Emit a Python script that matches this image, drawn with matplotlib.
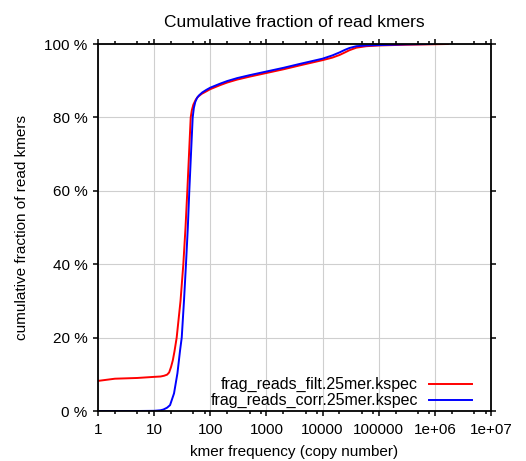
import numpy as np
import matplotlib.pyplot as plt
from matplotlib.ticker import LogLocator, FixedLocator, NullFormatter

plt.rcParams['font.family'] = ['Liberation Sans', 'DejaVu Sans']

# kmer frequency vs cumulative fraction (%)
filt_x = [1, 2, 5, 10, 13, 15, 17, 18.5, 20, 21.5, 23, 25.2, 29.5, 33.1, 36.2,
          39.0, 41.8, 44.8, 47, 50, 55, 60, 70, 85, 100, 150, 200, 300, 500,
          1000, 2000, 4000, 10000, 15000, 20000, 25000, 30000, 40000, 60000,
          1e5, 3e5, 1.7e6]
filt_y = [8.2, 8.8, 9.0, 9.3, 9.4, 9.6, 9.9, 10.5, 12, 13.8, 16.2, 20, 30, 40,
          50, 60, 70, 80, 82, 83.5, 84.8, 85.6, 86.4, 87.1, 87.7, 88.8, 89.5,
          90.3, 91.1, 92.1, 93.1, 94.2, 95.6, 96.3, 97.0, 97.7, 98.3, 99.0,
          99.4, 99.6, 99.8, 100]

corr_x = [1, 5, 10, 13, 14.6, 17, 19.2, 22.6, 26, 29, 31, 34.0, 36.9, 39.8, 42.3,
          45.3, 48.6, 51, 54, 58, 63, 72, 85, 100, 150, 200, 300, 500, 1000,
          2000, 4000, 10000, 15000, 20000, 25000, 30000, 40000, 60000, 1e5,
          3e5, 9e5]
corr_y = [0, 0, 0.05, 0.2, 0.4, 0.9, 1.6, 4.8, 10.3, 16.6, 20, 30, 40, 50, 60,
          70, 80, 82.6, 84.2, 85.3, 86.0, 86.8, 87.5, 88.1, 89.2, 89.9,
          90.7, 91.5, 92.5, 93.5, 94.6, 96.0, 96.9, 97.7, 98.4, 98.9, 99.4,
          99.6, 99.7, 99.9, 100]

labels = ['frag_reads_filt.25mer.kspec', 'frag_reads_corr.25mer.kspec']
colors = ['#ff0000', '#0000ff']
x_ticks = [1, 10, 100, 1000, 10000, 100000, 1e6, 1e7]
x_ticklabels = ['1', '10', '100', '1000', '10000', '100000', '1e+06', '1e+07']
y_ticks = [0, 20, 40, 60, 80, 100]

fig = plt.figure(figsize=(5.26, 4.61), dpi=100)
ax = fig.add_axes([98 / 526, 50 / 461, 393 / 526, 367 / 461])

ax.plot(filt_x, filt_y, color=colors[0], lw=1.4)
ax.plot(corr_x, corr_y, color=colors[1], lw=1.4)

ax.set_xscale('log')
ax.set_xlim(1, 1e7)
ax.set_ylim(0, 100)
ax.xaxis.set_major_locator(FixedLocator(x_ticks))
ax.set_xticklabels(x_ticklabels)
ax.xaxis.set_minor_locator(LogLocator(base=10, subs=[2, 5, 8], numticks=20))
ax.xaxis.set_minor_formatter(NullFormatter())
ax.set_yticks(y_ticks)
ax.set_yticklabels([f'{v} %' for v in y_ticks])

ax.grid(True, which='major', color='#cfcfcf', lw=0.8)
ax.set_axisbelow(True)
for s in ax.spines.values():
    s.set_linewidth(1.3)
ax.tick_params(which='both', direction='out', top=True, right=True,
               labelsize=11, width=1.1)
ax.tick_params(which='major', length=3.5)
ax.tick_params(which='minor', length=2)
ax.tick_params(axis='x', which='major', pad=5)
ax.tick_params(axis='y', which='major', pad=4)

ax.set_title('Cumulative fraction of read kmers', fontsize=12.5, pad=12)
ax.set_xlabel('kmer frequency (copy number)', fontsize=11, labelpad=6)
ax.set_ylabel('cumulative fraction of read kmers', fontsize=11, labelpad=11)

# legend, gnuplot style: right aligned text then sample line
rows = [0.0736, 0.030]
for i in range(2):
    ax.text(0.814, rows[i], labels[i], transform=ax.transAxes, ha='right',
            va='center', fontsize=11.5)
    ax.plot([0.842, 0.952], [rows[i], rows[i]], transform=ax.transAxes,
            color=colors[i], lw=1.4)

plt.savefig('out.png', dpi=100)
